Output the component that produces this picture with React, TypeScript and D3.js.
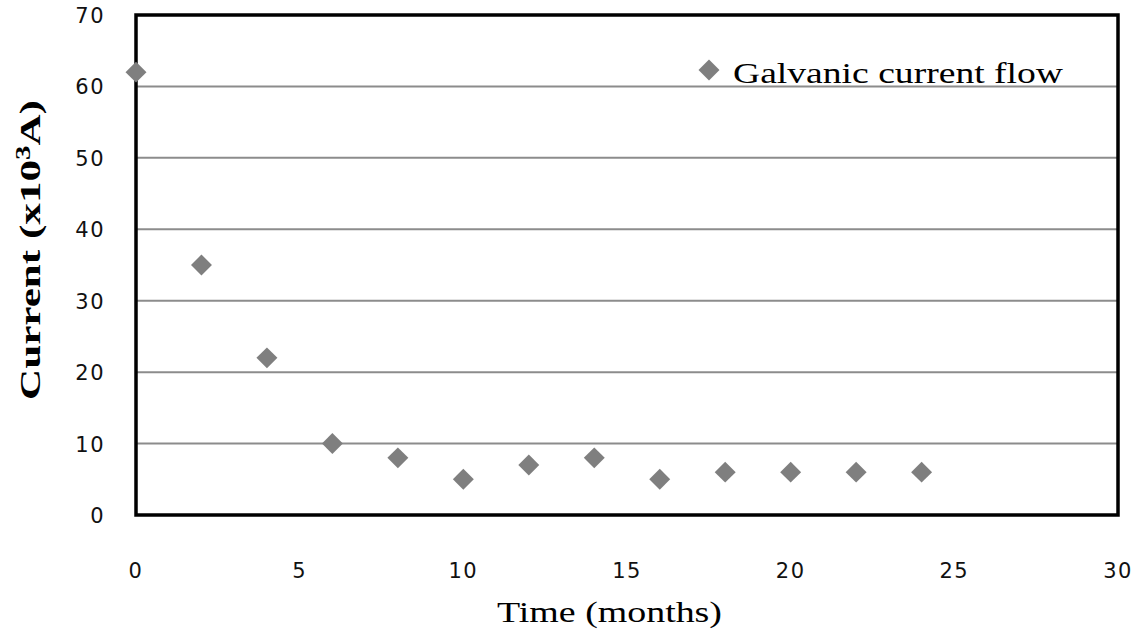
import React from "react";
import * as d3 from "d3";

const months = [0, 2, 4, 6, 8, 10, 12, 14, 16, 18, 20, 22, 24];
const current = [62, 35, 22, 10, 8, 5, 7, 8, 5, 6, 6, 6, 6];
const xTicks = [0, 5, 10, 15, 20, 25, 30];
const yTicks = [0, 10, 20, 30, 40, 50, 60, 70];
const seriesName = "Galvanic current flow";

export default function App() {
  const W = 1139, H = 636;
  const left = 136, right = 1118, top = 15, bottom = 515;
  const x = d3.scaleLinear().domain([0, 30]).range([left, right]);
  const y = d3.scaleLinear().domain([0, 70]).range([bottom, top]);
  const diamond = d3.symbol().type(d3.symbolDiamond2).size(280)();
  const tickFont = "'DejaVu Sans', sans-serif";
  const serif = "'Liberation Serif', 'Times New Roman', serif";
  return (
    <svg width={W} height={H} style={{ position: "absolute", left: 0, top: 0, background: "#fff" }}>
      <rect x={0} y={0} width={W} height={H} fill="#fff" />
      {yTicks.slice(1, -1).map((t) => (
        <line key={t} x1={left} x2={right} y1={y(t)} y2={y(t)} stroke="#8c8c8c" strokeWidth={2} />
      ))}
      <rect x={left} y={top} width={right - left} height={bottom - top} fill="none" stroke="#000" strokeWidth={3.5} />
      {yTicks.map((t) => (
        <text key={t} x={105} y={y(t) + 8} textAnchor="end" fontFamily={tickFont} fontSize={21} letterSpacing={1.5} fill="#111">{t}</text>
      ))}
      {xTicks.map((t) => (
        <text key={t} x={x(t)} y={578} textAnchor="middle" fontFamily={tickFont} fontSize={21} letterSpacing={1.5} fill="#111">{t}</text>
      ))}
      {months.map((m, i) => (
        <path key={m} d={diamond} transform={`translate(${x(m)},${y(current[i])})`} fill="#7f7f7f" />
      ))}
      <path d={diamond} transform={`translate(709,70)`} fill="#7f7f7f" />
      <text x={733} y={83} fontFamily={serif} fontSize={30} textLength={330} lengthAdjust="spacingAndGlyphs" fill="#000">{seriesName}</text>
      <text x={497} y={622} fontFamily={serif} fontSize={30} textLength={225} lengthAdjust="spacingAndGlyphs" fill="#000">Time (months)</text>
      <text transform="translate(40,400) rotate(-90)" fontFamily={serif} fontSize={30} fontWeight="bold" textLength={300} lengthAdjust="spacingAndGlyphs" fill="#000">
        Current (x10<tspan dy={-10} fontSize={20}>3</tspan><tspan dy={10}>A)</tspan>
      </text>
    </svg>
  );
}
